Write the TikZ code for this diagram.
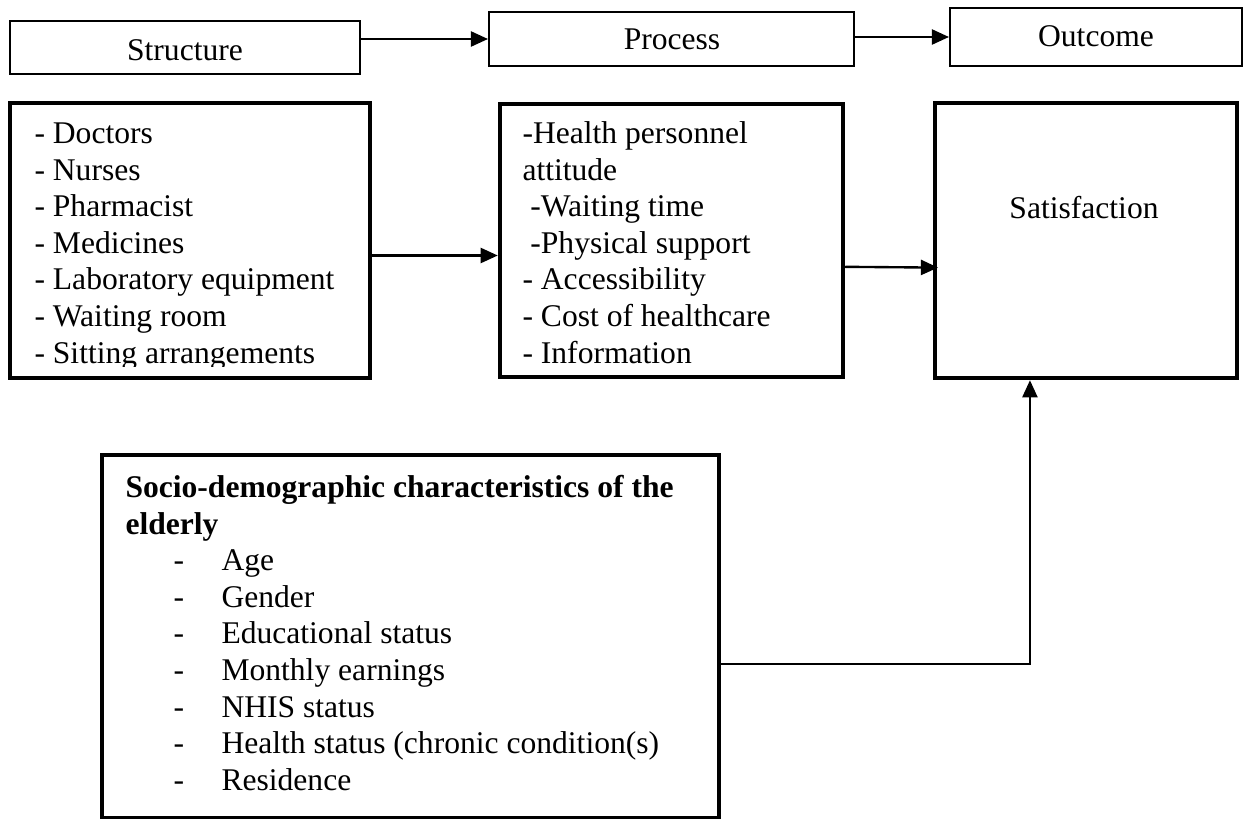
\documentclass[tikz,border=0pt]{standalone}
\usepackage{fontspec}
\setmainfont{Liberation Serif}
\usetikzlibrary{
  arrows.meta,
  positioning,
  fit
}
\newlength\pu
\setlength\pu{0.38pt}
\newcommand{\sdline}[1]{\hspace*{48\pu}\makebox[48\pu][l]{-}#1}
\tikzset{
  >={Triangle[length=6.5pt, width=5.7pt]},
  every node/.style={font=\fontsize{12pt}{13.9pt}\selectfont},
  headbox/.style={draw, line width=0.75pt, inner sep=0pt},
  listbox/.style={draw, line width=1.7pt, inner sep=0pt},
  listtext/.style={anchor=north west, align=left, inner sep=0pt},
  conn/.style={->, line width=0.9pt}
}
\begin{document}
\begin{tikzpicture}[x=0.38pt, y=-0.38pt]
  \useasboundingbox (0,0) rectangle (1245,819);

  % Top row
  \node[headbox, fit={(10,21) (360,74)}] (structure) {};
  \node[headbox, fit={(489,12) (854,66)}] (process) {};
  \node[headbox, fit={(950,8) (1242,66)}] (outcome) {};
  \node[anchor=base] (structuretext) at (185,61) {Structure};
  \node[anchor=base] (processtext) at (672,50) {Process};
  \node[anchor=base] (outcometext) at (1096,47) {Outcome};

  % Second row
  \node[listbox, fit={(10,103) (370,378)}] (resources) {};
  \node[listbox, fit={(500,104) (843,377)}] (care) {};
  \node[listbox, fit={(935,103) (1237,378)}] (satis) {};
  \node[anchor=base] (satistext) at (1084,218) {Satisfaction};

  % Lists (cut at the bottom, as in the text boxes)
  \begin{scope}
    \clip (10,103) rectangle (370,366);
    \node[listtext] (resourcelist) at (34,117.4) {\strut- Doctors\\- Nurses\\- Pharmacist\\- Medicines\\- Laboratory equipment\\- Waiting room\\- Sitting arrangements};
  \end{scope}
  \begin{scope}
    \clip (500,104) rectangle (843,366);
    \node[listtext] (carelist) at (522,117.4) {\strut-Health personnel\\attitude\\\hspace*{3pt}-Waiting time\\\hspace*{3pt}-Physical support\\- Accessibility\\- Cost of healthcare\\- Information};
  \end{scope}

  % Socio-demographic box
  \node[listbox, fit={(102,455) (719,818)}] (socio) {};
  \node[listtext] (sociolist) at (125,471.4) {\strut\textbf{Socio-demographic characteristics of the}\\\textbf{elderly}\\\sdline{Age}\\\sdline{Gender}\\\sdline{Educational status}\\\sdline{Monthly earnings}\\\sdline{NHIS status}\\\sdline{Health status (chronic condition(s)}\\\sdline{Residence}};

  % Connectors
  \draw[conn] (structure.east |- process.west) -- (process.west);
  \draw[conn] (process.east |- outcome.west) -- (outcome.west);
  \draw[conn] ([yshift=-5.7pt]resources.east) -- ([yshift=-5.7pt]care.west);
  \draw[conn] ([yshift=-10pt]care.east) -- ([xshift=2pt, yshift=-10.3pt]satis.west);
  \draw[conn] ([yshift=-10.5pt]socio.east) -| ([xshift=-21.3pt]satis.south);
\end{tikzpicture}
\end{document}
